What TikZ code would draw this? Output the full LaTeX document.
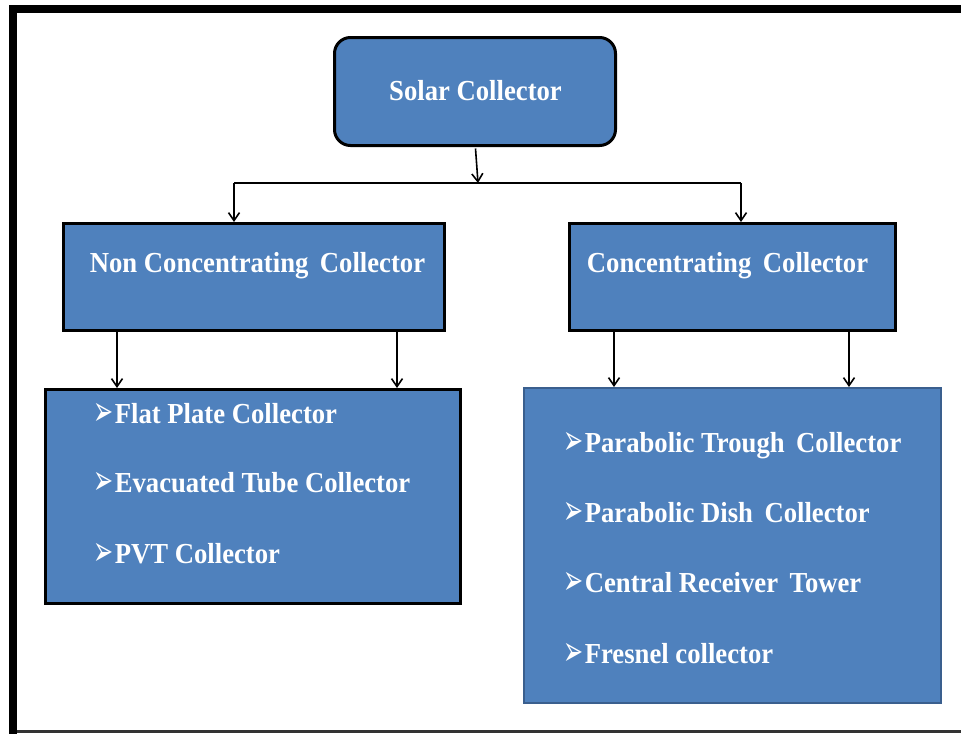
\documentclass[tikz,border=0pt]{standalone}
\usepackage{fontspec}
\usepackage{graphicx}
\setmainfont{Liberation Serif}[FakeStretch=0.92]
\newfontfamily\symfont{DejaVu Sans}
\usetikzlibrary{arrows.meta}
\definecolor{boxblue}{HTML}{4F81BD}
\definecolor{edgeblue}{HTML}{3A5F8E}
\tikzset{
  bluebox/.style={draw=black, line width=3pt, fill=boxblue, inner sep=0pt, anchor=north west},
  listbox/.style={draw=edgeblue, line width=2pt, fill=boxblue, inner sep=0pt, anchor=north west},
  lbl/.style={text=white, font=\fontsize{29}{32}\selectfont\bfseries, inner sep=0pt},
  item/.style={lbl, anchor=base west},
  conn/.style={line width=1.6pt, draw=black},
  arr/.style={conn, -{Straight Barb[length=8pt,width=11pt,line width=1.6pt]}},
}
\newcommand{\bul}{{\symfont\fontsize{32}{32}\selectfont\raisebox{-2pt}{\scalebox{0.75}[1.3]{➢}}}\kern1.5pt}
\begin{document}
\begin{tikzpicture}[x=1pt,y=-1pt]
\useasboundingbox (0,0) rectangle (961,734);
% frame
\fill[black] (9,5) rectangle (17,734);
\fill[black] (9,5) rectangle (961,13);
\fill[black!80] (17,730) rectangle (961,732.5);
% boxes
\node[bluebox, rounded corners=16pt, minimum width=281pt, minimum height=108pt] (solar) at (333,36) {};
\node[lbl] (solart) at (475.5,91) {Solar Collector};
\node[bluebox, minimum width=381pt, minimum height=107pt] (noncon) at (62,222) {};
\node[lbl] (noncont) at (257.5,266) {Non Concentrating\, Collector};
\node[bluebox, minimum width=326pt, minimum height=107pt] (conc) at (568,222) {};
\node[lbl] (conct) at (727.5,266) {Concentrating\, Collector};
\node[bluebox, minimum width=415pt, minimum height=214pt] (nlist) at (44,388) {};
\node[item] (n1) at (93,423) {\bul Flat Plate Collector};
\node[item] (n2) at (93,492) {\bul Evacuated Tube Collector};
\node[item] (n3) at (93,563) {\bul PVT Collector};
\node[listbox, minimum width=417pt, minimum height=315pt] (clist) at (523,387) {};
\node[item] (c1) at (563,452) {\bul Parabolic Trough\, Collector};
\node[item] (c2) at (563,522) {\bul Parabolic Dish\, Collector};
\node[item] (c3) at (563,592) {\bul Central Receiver\, Tower};
\node[item] (c4) at (563,663) {\bul Fresnel collector};
% connectors
\coordinate (busM) at (478,183);
\coordinate (busL) at (234,183);
\coordinate (busR) at (741,183);
\draw[arr] ([xshift=0.5pt,yshift=-1.5pt]solar.south) -- (busM);
\draw[conn] (busL) -- (busR);
\draw[arr] (busL) -- (busL |- noncon.north);
\draw[arr] (busR) -- (busR |- conc.north);
\coordinate (nl1) at (117,0);
\coordinate (nl2) at (397,0);
\coordinate (cl1) at (614,0);
\coordinate (cl2) at (849,0);
\draw[arr] (nl1 |- noncon.south) -- (nl1 |- nlist.north);
\draw[arr] (nl2 |- noncon.south) -- (nl2 |- nlist.north);
\draw[arr] (cl1 |- conc.south) -- (cl1 |- clist.north);
\draw[arr] (cl2 |- conc.south) -- (cl2 |- clist.north);
\end{tikzpicture}
\end{document}
